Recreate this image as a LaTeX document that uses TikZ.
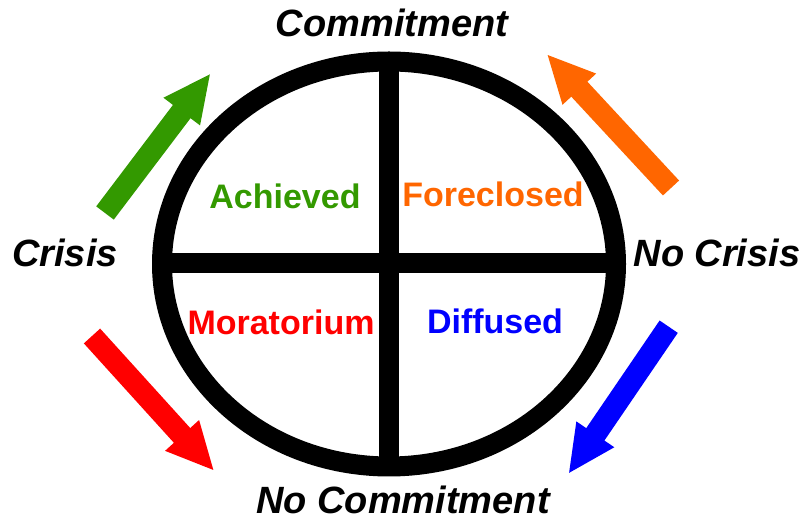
\documentclass[tikz,border=0pt]{standalone}
\usepackage{fontspec}
\setmainfont{Liberation Sans}
\usetikzlibrary{arrows.meta}
\definecolor{cgreen}{HTML}{339900}
\definecolor{corange}{HTML}{FF6600}
\definecolor{cred}{HTML}{FF0000}
\definecolor{cblue}{HTML}{0000FF}
\tikzset{
  outerlabel/.style={font=\fontsize{38}{40}\selectfont\bfseries\itshape, anchor=base, inner sep=0pt},
  quadlabel/.style={font=\fontsize{34}{36}\selectfont\bfseries, anchor=base, inner sep=0pt},
  ring/.style={line width=20pt, draw=black},
  fatarrow/.style={line width=22pt, draw=#1, -{Triangle[length=48pt,width=42pt]}}
}
\begin{document}
\begin{tikzpicture}[x=1pt,y=1pt]
\useasboundingbox (0,0) rectangle (805,521);
% circle and cross
\draw[ring] (389,257) ellipse (227 and 202.5);
\coordinate (vtop) at (389,461);
\coordinate (vbot) at (389,54);
\coordinate (hl) at (162,257.5);
\coordinate (hr) at (616,257.5);
\draw[ring] (vtop) -- (vbot);
\draw[ring] (hl) -- (hr);
% outer labels
\node[outerlabel] (commit) at (392,484.3) {Commitment};
\node[outerlabel] (nocommit) at (403,7.5) {No Commitment};
\node[outerlabel] (crisis) at (65,254.3) {Crisis};
\node[outerlabel] (nocrisis) at (717,254.3) {No Crisis};
% quadrant labels
\node[quadlabel, text=cgreen] (ach) at (285,312.7) {Achieved};
\node[quadlabel, text=corange] (forc) at (493,314.3) {Foreclosed};
\node[quadlabel, text=cred] (mor) at (281,186) {Moratorium};
\node[quadlabel, text=cblue] (dif) at (495,187.7) {Diffused};
% arrows
\coordinate (gt) at (105,308);
\coordinate (gh) at (210.7,447.7);
\coordinate (ot) at (671,333);
\coordinate (oh) at (546.7,467);
\coordinate (rt) at (92,185);
\coordinate (rh) at (214.3,50);
\coordinate (bt) at (668.7,194.3);
\coordinate (bh) at (568.3,47);
\draw[fatarrow=cgreen] (gt) -- (gh);
\draw[fatarrow=corange] (ot) -- (oh);
\draw[fatarrow=cred] (rt) -- (rh);
\draw[fatarrow=cblue] (bt) -- (bh);
\end{tikzpicture}
\end{document}
